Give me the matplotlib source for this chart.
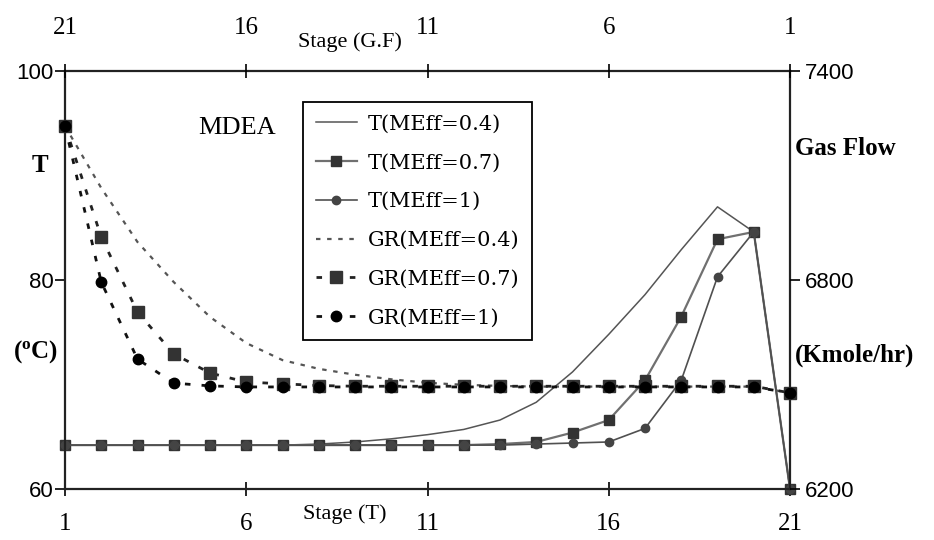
import numpy as np
import matplotlib.pyplot as plt

# stage numbers
stages_t = list(range(1, 22))      # Stage (T), bottom axis
stages_gf = list(range(21, 0, -1))  # Stage (G.F), top axis (reversed)

# temperature profiles (deg C) on stages 1..21
t_04 = [64.2, 64.2, 64.2, 64.2, 64.2, 64.2, 64.2, 64.3, 64.5, 64.8, 65.2,
        65.7, 66.6, 68.3, 71.2, 74.8, 78.6, 82.9, 87.0, 84.6, 60.0]
t_07 = [64.2, 64.2, 64.2, 64.2, 64.2, 64.2, 64.2, 64.2, 64.2, 64.2, 64.2,
        64.2, 64.3, 64.5, 65.4, 66.6, 70.4, 76.5, 83.9, 84.6, 60.0]
t_1 = [64.2, 64.2, 64.2, 64.2, 64.2, 64.2, 64.2, 64.2, 64.2, 64.2, 64.2,
       64.2, 64.2, 64.3, 64.4, 64.5, 65.8, 70.4, 80.3, 84.6, 60.0]

# gas flow (Kmole/hr) on G.F stages 21..1
gr_04 = [7242, 7064, 6909, 6794, 6694, 6619, 6570, 6545, 6528, 6515, 6505,
         6499, 6496, 6494, 6494, 6494, 6494, 6494, 6494, 6494, 6476]
gr_07 = [7242, 6923, 6708, 6588, 6533, 6507, 6502, 6497, 6495, 6495, 6495,
         6495, 6495, 6495, 6495, 6495, 6495, 6495, 6495, 6495, 6476]
gr_1 = [7242, 6794, 6573, 6504, 6496, 6493, 6493, 6493, 6493, 6493, 6493,
        6493, 6493, 6493, 6493, 6493, 6493, 6493, 6493, 6493, 6476]

x_ticks = [1, 6, 11, 16, 21]
t_ticks = [60, 80, 100]
gr_ticks = [6200, 6800, 7400]

serif = 'Liberation Serif'
sans = 'Liberation Sans'

fig = plt.figure(figsize=(9.34, 5.4), dpi=100)
pos = [65 / 934, 1 - 489 / 540, 725 / 934, 418 / 540]
ax = fig.add_axes(pos)
ax2 = fig.add_axes(pos, frameon=False)

# temperature lines
l1, = ax.plot(stages_t, t_04, color='#555555', lw=1.1, clip_on=False,
              label='T(MEff=0.4)')
l2, = ax.plot(stages_t, t_07, color='#707070', lw=1.6, marker='s', ms=7,
              mfc='#333333', mec='#333333', clip_on=False, label='T(MEff=0.7)')
l3, = ax.plot(stages_t, t_1, color='#505050', lw=1.2, marker='o', ms=6,
              mfc='#444444', mec='#444444', clip_on=False, label='T(MEff=1)')

# gas flow lines
l4, = ax2.plot(stages_gf, gr_04, color='#555555', lw=1.6, ls=(0, (2, 3)),
               clip_on=False, label='GR(MEff=0.4)')
l5, = ax2.plot(stages_gf, gr_07, color='#222222', lw=2, ls=(0, (2, 4)),
               marker='s', ms=8, mfc='#333333', mec='#333333', clip_on=False,
               label='GR(MEff=0.7)')
l6, = ax2.plot(stages_gf, gr_1, color='#111111', lw=2, ls=(0, (2, 4)),
               marker='o', ms=7.5, mfc='black', mec='black', clip_on=False,
               label='GR(MEff=1)')

ax.set_xlim(1, 21)
ax.set_ylim(60, 100)
ax.set_xticks(x_ticks)
ax.set_yticks(t_ticks)
ax2.set_xlim(21, 1)
ax2.set_ylim(6200, 7400)
ax2.set_xticks(x_ticks)
ax2.set_yticks(gr_ticks)
ax2.xaxis.tick_top()
ax2.yaxis.tick_right()

for s in ax.spines.values():
    s.set_linewidth(1.6)
    s.set_color('#222222')

ax.tick_params(axis='x', direction='inout', length=10, width=1.2, pad=12,
               labelsize=18, labelfontfamily=serif)
ax.tick_params(axis='y', direction='out', length=7, width=1.2, pad=1,
               labelsize=16, labelfontfamily=sans)
ax2.tick_params(axis='x', direction='inout', length=10, width=1.2, pad=18,
                labelsize=18, labelfontfamily=serif)
ax2.tick_params(axis='y', direction='out', length=7, width=1.2, pad=4,
                labelsize=16, labelfontfamily=sans)

# axis titles
fig.text(345 / 934, 1 - 514 / 540, 'Stage (T)', ha='center', va='center',
         fontsize=16, family=serif)
fig.text(350 / 934, 1 - 42 / 540, 'Stage (G.F)', ha='center', va='center',
         fontsize=16, family=serif)
fig.text(40 / 934, 1 - 165 / 540, 'T', ha='center', va='center',
         fontsize=18, family=serif, weight='bold')
fig.text(36 / 934, 1 - 352 / 540, r'($\mathregular{^o}$C)', ha='center',
         va='center', fontsize=18, family=serif, weight='bold')
fig.text(795 / 934, 1 - 148 / 540, 'Gas Flow', ha='left', va='center',
         fontsize=18, family=serif, weight='bold')
fig.text(795 / 934, 1 - 355 / 540, '(Kmole/hr)', ha='left', va='center',
         fontsize=18, family=serif, weight='bold')
fig.text(237 / 934, 1 - 128 / 540, 'MDEA', ha='center', va='center',
         fontsize=19, family=serif)

leg = ax2.legend(handles=[l1, l2, l3, l4, l5, l6], loc='upper left',
                 bbox_to_anchor=(303 / 934, 1 - 102 / 540), bbox_transform=fig.transFigure,
                 frameon=True, fancybox=False, edgecolor='black', framealpha=1,
                 prop={'family': 'DejaVu Serif', 'size': 15},
                 handlelength=2.0, handletextpad=0.5, labelspacing=0.95,
                 borderpad=0.6, borderaxespad=0)
leg.get_frame().set_linewidth(1.3)

fig.savefig('out.png', dpi=100)
